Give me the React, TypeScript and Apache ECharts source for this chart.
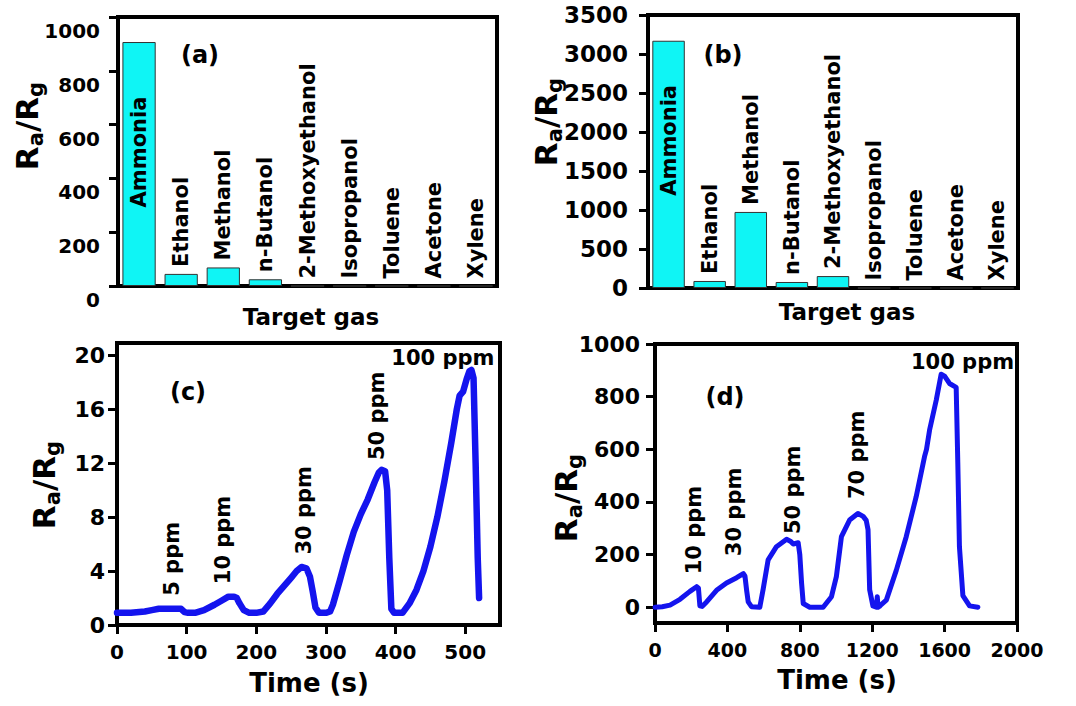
import React, { useEffect, useRef } from "react";
import * as echarts from "echarts";

// ---- data ----
const gases = ["Ammonia", "Ethanol", "Methanol", "n-Butanol", "2-Methoxyethanol", "Isopropanol", "Toluene", "Acetone", "Xylene"];
const responseA = [907, 45, 69, 25, 0, 0, 0, 0, 0];
const responseB = [3170, 90, 975, 77, 153, 0, 0, 0, 0];

const timeC = [0, 20, 40, 50, 60, 80, 92, 97, 102, 112, 125, 140, 150, 160, 168, 172, 176, 182, 190, 200, 210, 220, 230, 240, 250, 258, 265, 272, 277, 281, 285, 290, 300, 306, 310, 320, 330, 340, 350, 360, 370, 376, 380, 385, 388, 391, 394, 398, 410, 420, 430, 440, 450, 460, 470, 480, 488, 492, 497, 502, 506, 509, 512, 515, 518, 520];
const valueC = [0.9, 0.9, 1.0, 1.1, 1.2, 1.2, 1.2, 0.95, 0.9, 0.9, 1.1, 1.5, 1.8, 2.1, 2.1, 2.0, 1.6, 1.1, 0.9, 0.9, 1.0, 1.6, 2.3, 2.9, 3.5, 4.0, 4.3, 4.2, 3.6, 2.5, 1.3, 0.9, 0.9, 1.0, 1.5, 3.3, 5.2, 6.9, 8.2, 9.3, 10.6, 11.3, 11.5, 11.4, 10.0, 5.0, 1.2, 0.9, 0.9, 1.6, 2.6, 4.0, 5.8, 8.0, 10.6, 13.5, 16.0, 17.0, 17.3, 18.2, 18.8, 18.9, 18.3, 12.0, 5.0, 2.0];

const timeD = [0, 40, 83, 138, 193, 230, 240, 248, 260, 285, 340, 395, 451, 488, 497, 507, 515, 533, 579, 598, 625, 671, 727, 750, 764, 791, 800, 810, 819, 855, 929, 975, 1002, 1030, 1075, 1121, 1150, 1167, 1177, 1186, 1204, 1223, 1228, 1232, 1240, 1250, 1278, 1333, 1388, 1443, 1489, 1500, 1517, 1554, 1581, 1600, 1627, 1664, 1673, 1682, 1701, 1738, 1784];
const valueD = [0, 2, 8, 30, 60, 78, 72, 5, 3, 20, 64, 92, 112, 128, 118, 60, 20, 2, 0, 70, 180, 230, 258, 250, 240, 245, 200, 90, 14, 0, 0, 40, 116, 268, 331, 356, 345, 330, 294, 66, 5, 0, 40, 0, 3, 10, 27, 140, 268, 420, 572, 600, 673, 787, 885, 878, 850, 835, 546, 229, 44, 5, 0];

const annoCText = ["5 ppm", "10 ppm", "30 ppm", "50 ppm", "100 ppm"];
const annoCTime = [79, 152, 268, 374, 468];
const annoCValue = [4.9, 6.3, 8.5, 15.5, 19.8];

const annoDText = ["10 ppm", "30 ppm", "50 ppm", "70 ppm", "100 ppm"];
const annoDTime = [215, 436, 762, 1115, 1699];
const annoDValue = [293, 362, 446, 579, 933];

const ticksYA = [0, 200, 400, 600, 800, 1000];
const ticksYB = [0, 500, 1000, 1500, 2000, 2500, 3000, 3500];
const ticksYC = [0, 4, 8, 12, 16, 20];
const ticksXC = [0, 100, 200, 300, 400, 500];
const ticksYD = [0, 200, 400, 600, 800, 1000];
const ticksXD = [0, 400, 800, 1200, 1600, 2000];

// ---- styles ----
const FONT = "DejaVu Sans";
const BLUE = "#1414ee";
const CYAN = "#0ff5f5";

const tickStyle = { show: true, inside: false, length: 9, lineStyle: { color: "#000", width: 3 } };
const lineStyleAxis = { show: true, onZero: false, lineStyle: { color: "#000", width: 4 } };
const labelFont = {
  fontFamily: FONT,
  fontWeight: "bold" as const,
  fontSize: 20,
  color: "#000",
  formatter: (v: number) => String(v),
};

function yName(x: number, y: number) {
  return {
    type: "text",
    x,
    y,
    rotation: Math.PI / 2,
    style: {
      text: "{m|R}{s|a}{m|/R}{s|g}",
      font: `bold 31px '${FONT}'`,
      align: "center",
      verticalAlign: "middle",
      fill: "#000",
      rich: {
        m: { font: `bold 31px '${FONT}'`, lineHeight: 38, verticalAlign: "middle", fill: "#000" },
        s: { font: `bold 21px '${FONT}'`, lineHeight: 20, verticalAlign: "bottom", fill: "#000" },
      },
    },
  };
}

function plainText(x: number, y: number, text: string, size: number) {
  return {
    type: "text",
    x,
    y,
    style: { text, font: `bold ${size}px '${FONT}'`, fill: "#000", align: "center", verticalAlign: "middle" },
  };
}

function barSeries(values: number[], idx: number, insideShift: number) {
  return {
    type: "bar",
    xAxisIndex: idx,
    yAxisIndex: idx,
    barCategoryGap: "21%",
    itemStyle: { color: CYAN, borderColor: "#333", borderWidth: 1 },
    label: {
      show: true,
      formatter: "{b}",
      position: "top",
      rotate: 90,
      align: "left",
      verticalAlign: "middle",
      distance: 7,
      fontFamily: FONT,
      fontWeight: "bold",
      fontSize: 21,
      color: "#000",
      textBorderWidth: 0,
    },
    data: values.map((v, i) =>
      i === 0
        ? { value: v, label: { position: "inside", align: "center", offset: [insideShift, 0] } }
        : { value: v }
    ),
  };
}

function annoSeries(texts: string[], times: number[], values: number[], idx: number) {
  return {
    type: "scatter",
    xAxisIndex: idx,
    yAxisIndex: idx,
    symbolSize: 0,
    silent: true,
    z: 5,
    itemStyle: { color: "#000", opacity: 1 },
    label: {
      show: true,
      position: "inside",
      formatter: "{b}",
      align: "center",
      verticalAlign: "middle",
      fontFamily: FONT,
      fontWeight: "bold",
      fontSize: 21,
      color: "#000",
      opacity: 1,
      textBorderWidth: 0,
    },
    data: texts.map((t, i) => ({
      name: t,
      value: [times[i], values[i]],
      label: { rotate: i === texts.length - 1 ? 0 : 90 },
    })),
  };
}

export default function App() {
  const ref = useRef<HTMLDivElement>(null);
  useEffect(() => {
    if (!ref.current) return;
    const chart = echarts.init(ref.current, null, { renderer: "svg" });
    const gridCommon = { show: true, borderColor: "#000", borderWidth: 4, containLabel: false };
    const option: any = {
      animation: false,
      backgroundColor: "#fff",
      grid: [
        { ...gridCommon, left: 118, top: 17, width: 379, height: 269 },
        { ...gridCommon, left: 648, top: 15, width: 370, height: 273 },
        { ...gridCommon, left: 117, top: 343, width: 383, height: 282 },
        { ...gridCommon, left: 655, top: 344, width: 362, height: 279 },
      ],
      xAxis: [
        { type: "category", gridIndex: 0, data: gases, axisLine: lineStyleAxis, axisTick: { show: false }, axisLabel: { show: false } },
        { type: "category", gridIndex: 1, data: gases, axisLine: lineStyleAxis, axisTick: { show: false }, axisLabel: { show: false } },
        {
          type: "value", gridIndex: 2, min: 0, max: 550, splitLine: { show: false },
          axisLine: lineStyleAxis,
          axisTick: { ...tickStyle, customValues: ticksXC },
          axisLabel: { ...labelFont, margin: 17, customValues: ticksXC },
        },
        {
          type: "value", gridIndex: 3, min: 0, max: 2000, interval: 400, splitLine: { show: false },
          axisLine: lineStyleAxis,
          axisTick: { ...tickStyle, customValues: ticksXD },
          axisLabel: { ...labelFont, fontSize: 19, margin: 17, customValues: ticksXD },
        },
      ],
      yAxis: [
        {
          type: "value", gridIndex: 0, min: 0, max: 1000, splitLine: { show: false },
          axisLine: lineStyleAxis,
          axisTick: { ...tickStyle, customValues: ticksYA },
          axisLabel: { ...labelFont, fontSize: 20, margin: 18, verticalAlign: "top", padding: [4, 0, 0, 0], customValues: ticksYA },
        },
        {
          type: "value", gridIndex: 1, min: 0, max: 3500, splitLine: { show: false },
          axisLine: lineStyleAxis,
          axisTick: { ...tickStyle, customValues: ticksYB },
          axisLabel: { ...labelFont, fontSize: 23, margin: 20, padding: [6, 0, 0, 0], customValues: ticksYB },
        },
        {
          type: "value", gridIndex: 2, min: 0, max: 20.9, splitLine: { show: false },
          axisLine: lineStyleAxis,
          axisTick: { ...tickStyle, customValues: ticksYC },
          axisLabel: { ...labelFont, fontSize: 22, margin: 12, customValues: ticksYC },
        },
        {
          type: "value", gridIndex: 3, min: -60, max: 1000, splitLine: { show: false },
          axisLine: lineStyleAxis,
          axisTick: { ...tickStyle, customValues: ticksYD },
          axisLabel: { ...labelFont, fontSize: 22, margin: 15, customValues: ticksYD },
        },
      ],
      series: [
        barSeries(responseA, 0, 12),
        barSeries(responseB, 1, 24),
        {
          type: "line", xAxisIndex: 2, yAxisIndex: 2, showSymbol: false, symbol: "none",
          lineStyle: { color: BLUE, width: 6.5, join: "round", cap: "round" },
          data: timeC.map((t, i) => [t, valueC[i]]),
        },
        {
          type: "line", xAxisIndex: 3, yAxisIndex: 3, showSymbol: false, symbol: "none",
          lineStyle: { color: BLUE, width: 5, join: "round", cap: "round" },
          data: timeD.map((t, i) => [t, valueD[i]]),
        },
        annoSeries(annoCText, annoCTime, annoCValue, 2),
        annoSeries(annoDText, annoDTime, annoDValue, 3),
      ],
      graphic: [
        yName(27, 126),
        yName(546, 122),
        yName(44, 485),
        yName(566, 498),
        plainText(311, 317, "Target gas", 23),
        plainText(847, 312, "Target gas", 23),
        plainText(309, 683, "Time (s)", 26),
        plainText(837, 680, "Time (s)", 26),
        plainText(200, 55, "(a)", 24),
        plainText(723, 55, "(b)", 24),
        plainText(188, 392, "(c)", 24),
        plainText(725, 397, "(d)", 24),
      ],
    };
    chart.setOption(option);
    return () => chart.dispose();
  }, []);
  return (
    <div
      ref={ref}
      style={{ position: "absolute", left: 0, top: 0, width: 1076, height: 706, background: "#fff" }}
    />
  );
}
